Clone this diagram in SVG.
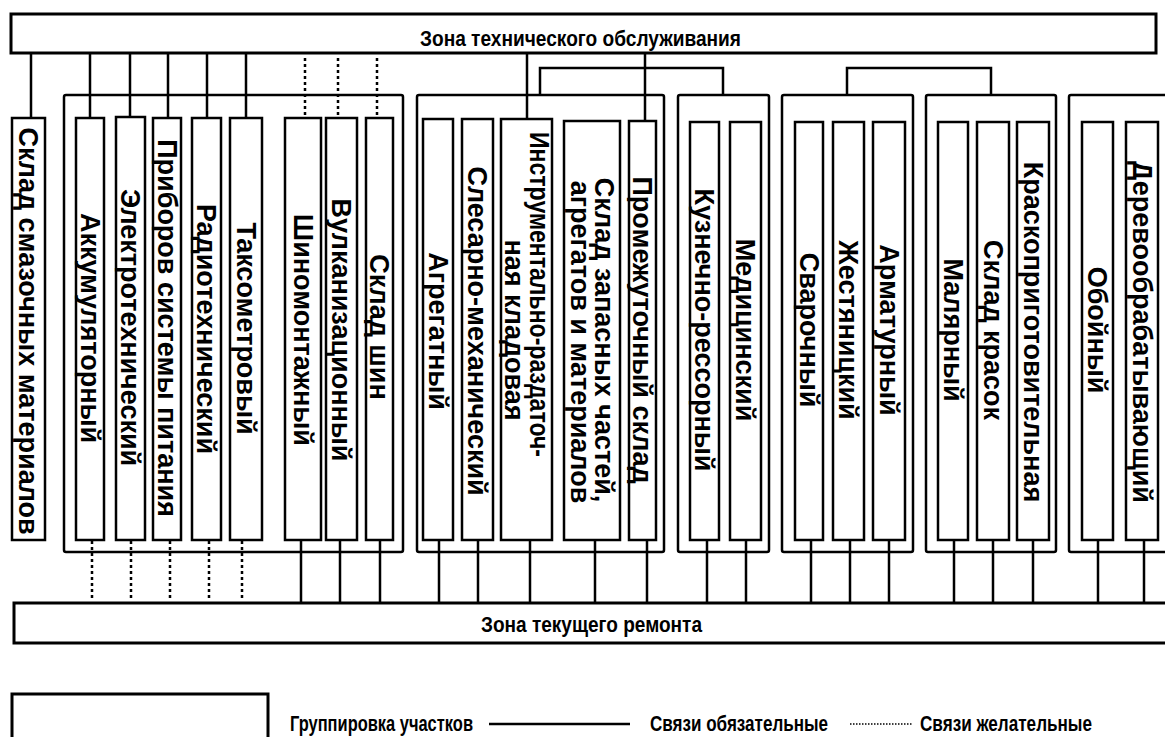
<svg xmlns="http://www.w3.org/2000/svg" width="1165" height="737" viewBox="0 0 1165 737">
<style>
.bar{fill:#fff;stroke:#000;stroke-width:3}
.grp{fill:none;stroke:#000;stroke-width:2.5}
.box{fill:#fff;stroke:#000;stroke-width:2.5}
.c{stroke:#000;stroke-width:2.5;fill:none}
.d{stroke:#000;stroke-width:2.5;stroke-dasharray:3 3;fill:none}
.ld{stroke:#000;stroke-width:1.5;stroke-dasharray:1.5 1.5;fill:none}
.v{font-family:"Liberation Sans",Arial,sans-serif;font-weight:bold;font-size:27px;text-anchor:middle;fill:#000}
.h{font-family:"Liberation Sans",Arial,sans-serif;font-weight:bold;font-size:22px;fill:#000}
</style>
<rect width="1165" height="737" fill="#fff"/>

<g id="connectors">
  <path class="c" d="M31,53V118 M90,53V118 M130,53V117 M168,53V118 M207,53V118 M246,53V118 M527,53V119 M645,53V121"/>
  <path class="c" d="M540,95V68H723V95 M847,95V68H991V95"/>
  <path class="d" d="M305,58V118 M338,58V118 M377,58V118"/>
  <path class="d" d="M92,541V600 M131,541V600 M170,541V600 M209,541V600 M242,541V600"/>
  <path class="c" d="M301,540V603 M340,540V603 M380,540V603 M439,540V603 M478,540V603 M530,540V603 M595,540V603 M647,540V603 M707,540V603 M746,540V603 M811,540V603 M850,540V603 M889,540V603 M954,540V603 M993,540V603 M1033,540V603 M1098,540V603 M1144,540V603"/>
</g>

<g id="zone-to">
  <rect class="bar" x="11" y="14" width="1145" height="39"/>
  <text class="h" x="420" y="45.5" textLength="321" lengthAdjust="spacingAndGlyphs">Зона технического обслуживания</text>
</g>
<g id="zone-tr">
  <path class="bar" d="M1170,603H14V643H1170"/>
  <text class="h" x="481" y="631.5" textLength="221" lengthAdjust="spacingAndGlyphs">Зона текущего ремонта</text>
</g>

<g id="group1"><rect class="grp" x="64" y="95" width="339" height="457" rx="2"/></g>
<g id="group2"><rect class="grp" x="417" y="95" width="247" height="457" rx="2"/></g>
<g id="group3"><rect class="grp" x="678" y="95" width="91" height="457" rx="2"/></g>
<g id="group4"><rect class="grp" x="782" y="95" width="131" height="457" rx="2"/></g>
<g id="group5"><rect class="grp" x="926" y="95" width="130" height="457" rx="2"/></g>
<g id="group6"><path class="grp" d="M1172,95H1071Q1069,95 1069,97V550Q1069,552 1071,552H1172"/></g>

<g id="n-smaz"><rect class="box" x="12" y="118" width="33" height="422"/>
<text class="v" transform="translate(28.5,331) rotate(90)" dy="0.35em">Склад смазочных материалов</text></g>

<g id="n-akk"><rect class="box" x="76" y="118" width="28" height="422"/>
<text class="v" transform="translate(90,328) rotate(90)" dy="0.35em">Аккумуляторный</text></g>
<g id="n-elek"><rect class="box" x="116" y="117" width="29" height="423"/>
<text class="v" transform="translate(130.5,327.5) rotate(90)" dy="0.35em">Электротехнический</text></g>
<g id="n-prib"><rect class="box" x="153" y="118" width="28" height="422"/>
<text class="v" transform="translate(167,328) rotate(90)" dy="0.35em">Приборов системы питания</text></g>
<g id="n-radio"><rect class="box" x="192" y="118" width="29" height="422"/>
<text class="v" transform="translate(206.5,329) rotate(90)" dy="0.35em">Радиотехнический</text></g>
<g id="n-taks"><rect class="box" x="230" y="118" width="32" height="422"/>
<text class="v" transform="translate(246,328.5) rotate(90)" dy="0.35em">Таксометровый</text></g>
<g id="n-shinom"><rect class="box" x="285" y="118" width="36" height="422"/>
<text class="v" transform="translate(303,330) rotate(90)" dy="0.35em">Шиномонтажный</text></g>
<g id="n-vulk"><rect class="box" x="326" y="118" width="31" height="422"/>
<text class="v" transform="translate(341.5,330) rotate(90)" dy="0.35em">Вулканизационный</text></g>
<g id="n-shin"><rect class="box" x="366" y="118" width="27" height="422"/>
<text class="v" transform="translate(379.5,327) rotate(90)" dy="0.35em">Склад шин</text></g>

<g id="n-agr"><rect class="box" x="423" y="119" width="30" height="421"/>
<text class="v" transform="translate(438,331) rotate(90)" dy="0.35em">Агрегатный</text></g>
<g id="n-sles"><rect class="box" x="462" y="119" width="31" height="421"/>
<text class="v" transform="translate(477.5,331) rotate(90)" dy="0.35em">Слесарно-механический</text></g>
<g id="n-instr"><rect class="box" x="501" y="119" width="51" height="421"/>
<text class="v" transform="translate(539,294.5) rotate(90)" dy="0.35em" textLength="325" lengthAdjust="spacingAndGlyphs">Инструментально-раздаточ-</text>
<text class="v" transform="translate(514.5,330) rotate(90)" dy="0.35em">ная кладовая</text></g>
<g id="n-sklzap"><rect class="box" x="564" y="121" width="56" height="419"/>
<text class="v" transform="translate(604,340) rotate(90)" dy="0.35em">Склад запасных частей,</text>
<text class="v" transform="translate(580,342) rotate(90)" dy="0.35em">агрегатов и материалов</text></g>
<g id="n-prom"><rect class="box" x="629" y="121" width="27" height="419"/>
<text class="v" transform="translate(642.5,330) rotate(90)" dy="0.35em">Промежуточный склад</text></g>

<g id="n-kuzn"><rect class="box" x="690" y="122" width="29" height="418"/>
<text class="v" transform="translate(704.5,330) rotate(90)" dy="0.35em">Кузнечно-рессорный</text></g>
<g id="n-med"><rect class="box" x="730" y="122" width="31" height="418"/>
<text class="v" transform="translate(745.5,330) rotate(90)" dy="0.35em">Медицинский</text></g>

<g id="n-svar"><rect class="box" x="795" y="122" width="28" height="418"/>
<text class="v" transform="translate(809,330) rotate(90)" dy="0.35em">Сварочный</text></g>
<g id="n-zhest"><rect class="box" x="833" y="122" width="31" height="418"/>
<text class="v" transform="translate(848.5,330) rotate(90)" dy="0.35em">Жестяницкий</text></g>
<g id="n-armat"><rect class="box" x="873" y="122" width="32" height="418"/>
<text class="v" transform="translate(889,330) rotate(90)" dy="0.35em">Арматурный</text></g>

<g id="n-malyar"><rect class="box" x="938" y="122" width="30" height="418"/>
<text class="v" transform="translate(953,330) rotate(90)" dy="0.35em">Малярный</text></g>
<g id="n-kras"><rect class="box" x="977" y="122" width="32" height="418"/>
<text class="v" transform="translate(993,330) rotate(90)" dy="0.35em">Склад красок</text></g>
<g id="n-kraspr"><rect class="box" x="1017" y="122" width="32" height="418"/>
<text class="v" transform="translate(1033,332) rotate(90)" dy="0.35em">Краскоприготовительная</text></g>

<g id="n-oboi"><rect class="box" x="1082" y="122" width="31" height="418"/>
<text class="v" transform="translate(1097.5,330) rotate(90)" dy="0.35em">Обойный</text></g>
<g id="n-derevo"><rect class="box" x="1126" y="122" width="32" height="418"/>
<text class="v" transform="translate(1142,332) rotate(90)" dy="0.35em">Деревообрабатывающий</text></g>

<g id="legend">
  <rect class="bar" x="12" y="694" width="256" height="60"/>
  <text class="h" x="290" y="731" font-size="21" textLength="183" lengthAdjust="spacingAndGlyphs">Группировка участков</text>
  <path class="c" d="M489,724H630" stroke-width="3"/>
  <text class="h" x="650" y="731" font-size="21" textLength="178" lengthAdjust="spacingAndGlyphs">Связи обязательные</text>
  <path class="ld" d="M850,724H913"/>
  <text class="h" x="920" y="731" font-size="21" textLength="172" lengthAdjust="spacingAndGlyphs">Связи желательные</text>
</g>
</svg>
